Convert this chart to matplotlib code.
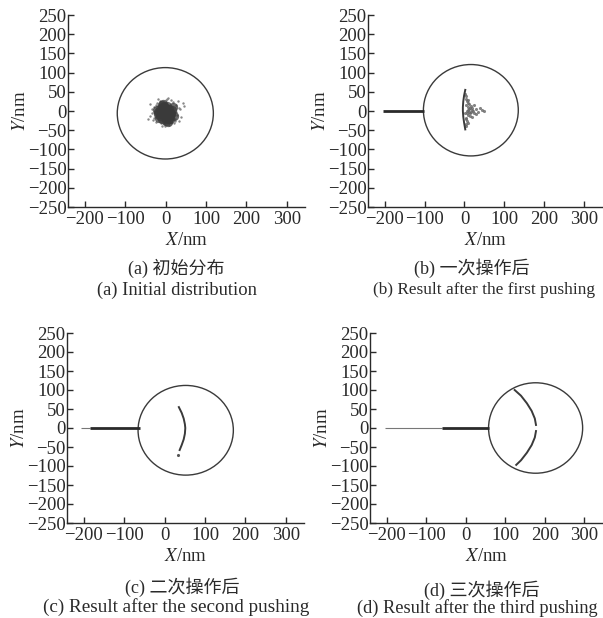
import matplotlib
matplotlib.use("Agg")
import matplotlib.pyplot as plt
from matplotlib.patches import Circle

plt.rcParams['font.family'] = ['Liberation Serif', 'Noto Sans CJK SC']
plt.rcParams['mathtext.fontset'] = 'stix'

ink = '#2a2a2a'

# tip circles (centre x, centre y, radius) per panel
circle_a = (-1, -6, 119)
circle_b = (16, 2, 119)
circle_c = (52, -6, 118)
circle_d = (177, 0, 119)

# (a) particle cluster, core and loose particles
core_x = [-15, -8, 0, 8, -18, -10, -2, 6, 14, -14, -6, 2, 10, -8, 0, 8, -20, 16, -4, 4, -12, 12, -3, 3,
          -22, 20, -16, 18, -10, 10, 0, -6, 6]
core_y = [5, 10, 8, 6, -3, -2, 0, -2, -4, -12, -10, -12, -14, -20, -20, -22, -8, 2, 14, 14, 0, -8, -5, -6,
          2, -12, -18, 10, 16, -22, -26, 18, -28]
halo_x = [-30, -28, 25, 28, -22, 18, -12, 12, 35, -35, 0, -5, 22, -25, 30, 42, -38, 5, -18, 20, 38, -40, -26, 26,
          -32, 32, -14, 14, -8, 8, 24, -24, 46, -44, 2, -2, 34, -34]
halo_y = [10, -18, 15, -10, 22, 24, -30, -30, 5, -5, 28, -35, -25, -28, 25, 20, 18, 35, 30, -32, -15, -12, 0, -2,
          -24, 8, 26, 28, -38, -36, -20, 16, 14, -20, 32, -40, -26, 4]

# (b) crescent after first pushing
edge_b_x = [2, -1, -3, -4, -4, -3, -1, 2]
edge_b_y = [55, 40, 25, 10, 0, -15, -30, -48]
fill_b_x = [5, 6, 10, 8, 14, 18, 12, 22, 8, 14, 6, 10, 28, 35, 45, 20, 25, 5, 3, 4, 16, 9, 2, 30,
            4, 7, 11, 3, 6, 13, 17, 24, 9, 5, 2, 12, 20, 38, 50]
fill_b_y = [40, 25, 20, 10, 8, 3, -2, 0, -10, -12, -25, -30, 5, -2, 3, -15, 15, -40, 30, -18, 12, 2, -5, -8,
            15, 0, 5, -20, -5, -6, -3, -4, 28, -33, 45, 18, 8, 8, -1]

# (c) arc after second pushing
arc_c_x = [35, 42, 47, 50, 51, 50, 47, 42, 37]
arc_c_y = [55, 40, 25, 10, 0, -15, -30, -45, -58]
dot_c = (33, -70)

# (d) arc after third pushing, split at y=0
arc_d_top_x = [124, 140, 155, 167, 175, 178]
arc_d_top_y = [100, 85, 65, 45, 25, 8]
arc_d_bot_x = [178, 175, 167, 155, 140, 128]
arc_d_bot_y = [-8, -25, -45, -65, -85, -97]

# tip track: (start, end) for thin and thick parts
track_b_thick = (-205, -101)
track_c_thin = (-207, -185)
track_c_thick = (-185, -62)
track_d_thin = (-205, -60)
track_d_thick = (-60, 59)

yticks = list(range(-250, 251, 50))
xticks = [-200, -100, 0, 100, 200, 300]

captions_zh = ['(a) 初始分布', '(b) 一次操作后', '(c) 二次操作后', '(d) 三次操作后']
captions_en = ['(a) Initial distribution', '(b) Result after the first pushing',
               '(c) Result after the second pushing', '(d) Result after the third pushing']

W, H = 603, 618
fig = plt.figure(figsize=(W / 100, H / 100), dpi=100)


def make_axes(left, top, right, bottom):
    ax = fig.add_axes([left / W, 1 - bottom / H, (right - left) / W, (bottom - top) / H])
    ax.set_xlim(-242, 345)
    ax.set_ylim(-250, 250)
    ax.set_xticks(xticks)
    ax.set_yticks(yticks)
    ax.spines['top'].set_visible(False)
    ax.spines['right'].set_visible(False)
    for s in ['left', 'bottom']:
        ax.spines[s].set_color(ink)
        ax.spines[s].set_linewidth(1.0)
    ax.tick_params(direction='in', length=4, width=1, colors=ink, labelsize=13.5)
    ax.tick_params(axis='x', pad=3)
    ax.tick_params(axis='y', pad=1)
    ax.set_xlabel('$X$/nm', fontsize=13.5, color=ink, labelpad=3)
    ax.set_ylabel('$Y$/nm', fontsize=13.5, color=ink, labelpad=-1)
    return ax


def add_circle(ax, c):
    ax.add_patch(Circle((c[0], c[1]), c[2], fill=False, ec='#3a3a3a', lw=1.0))


def track(ax, seg, lw, col):
    ax.plot([seg[0], seg[1]], [0, 0], color=col, lw=lw, solid_capstyle='butt')


ax_a = make_axes(68, 15, 305, 207)
ax_b = make_axes(368, 15, 602, 207)
ax_c = make_axes(67, 333, 304, 523)
ax_d = make_axes(370, 333, 602, 523)

# (a)
add_circle(ax_a, circle_a)
ax_a.scatter(halo_x, halo_y, s=3, color='#888888', lw=0)
ax_a.scatter(core_x, core_y, s=45, color='#3a3a3a', alpha=0.75, lw=0)

# (b)
add_circle(ax_b, circle_b)
track(ax_b, track_b_thick, 2.0, '#2a2a2a')
ax_b.scatter(fill_b_x, fill_b_y, s=5, color='#666666', alpha=0.8, lw=0)
ax_b.plot(edge_b_x, edge_b_y, color='#3a3a3a', lw=1.4)

# (c)
add_circle(ax_c, circle_c)
track(ax_c, track_c_thin, 0.8, '#777777')
track(ax_c, track_c_thick, 2.0, '#2a2a2a')
ax_c.plot(arc_c_x, arc_c_y, color='#3a3a3a', lw=1.4)
ax_c.scatter([dot_c[0]], [dot_c[1]], s=5, color='#555555', lw=0)

# (d)
add_circle(ax_d, circle_d)
track(ax_d, track_d_thin, 0.8, '#777777')
track(ax_d, track_d_thick, 2.0, '#2a2a2a')
ax_d.plot(arc_d_top_x, arc_d_top_y, color='#3a3a3a', lw=1.4)
ax_d.plot(arc_d_bot_x, arc_d_bot_y, color='#3a3a3a', lw=1.4)

# caption placement: (zh x, zh y, en x, en y, en size)
cap_pos = [
    (176, 268, 177, 290, 13.3),
    (472, 268, 484, 290, 12.4),
    (182, 587, 176, 607, 13.8),
    (482, 590, 477, 608, 13.2),
]
for zh, en, (zx, zy, ex, ey, es) in zip(captions_zh, captions_en, cap_pos):
    fig.text(zx / W, 1 - zy / H, zh, ha='center', va='center', fontsize=13, color=ink)
    fig.text(ex / W, 1 - ey / H, en, ha='center', va='center', fontsize=es, color=ink)

fig.savefig('out.png', dpi=100, facecolor='white')
